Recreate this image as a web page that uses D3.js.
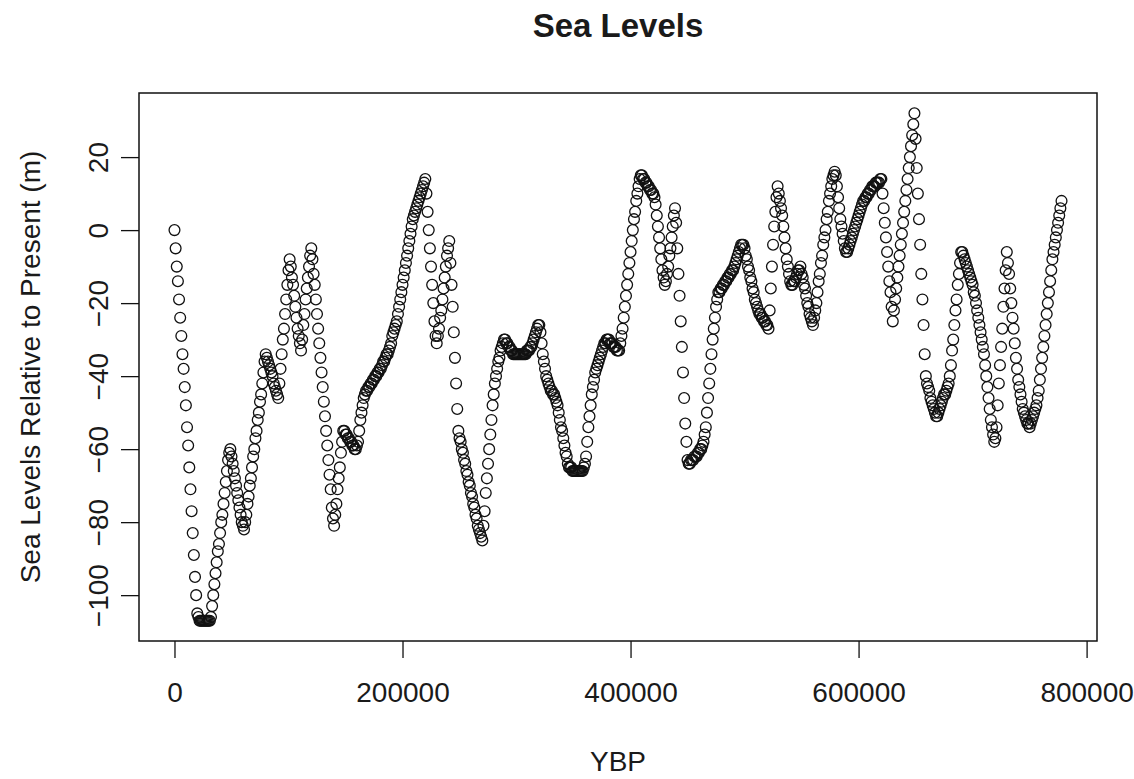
<!DOCTYPE html>
<html>
<head>
<meta charset="utf-8">
<script src="https://cdn.jsdelivr.net/npm/d3@7"></script>
<style>
  body { margin: 0; background: #fff; }
  text { font-family: "Liberation Sans", Arial, sans-serif; fill: #1a1a1a; }
</style>
</head>
<body>
<script>
// sea level (m, relative to present), one reading every 1000 years from 0 YBP
const seaLevel = [
  0, -5, -10, -14, -19, -24, -29, -34, -38, -43,          // 0
  -48, -54, -59, -65, -71, -77, -83, -89, -95, -100,
  -105, -106, -107, -107, -107, -107, -107, -107, -107, -107,
  -107, -107, -106, -103, -100, -97, -94, -91, -88, -86,
  -83, -80, -78, -75, -72, -69, -66, -63, -61, -60,
  -62, -64, -66, -68, -70, -72, -74, -76, -78, -80,      // 50
  -81, -82, -80, -78, -75, -73, -70, -68, -65, -62,
  -60, -57, -55, -52, -50, -47, -45, -42, -39, -36,
  -34, -35, -36, -37, -38, -39, -40, -42, -43, -44,
  -45, -46, -42, -38, -34, -30, -27, -23, -19, -15,
  -11, -8, -10, -13, -15, -18, -21, -24, -27, -29,       // 100
  -31, -33, -30, -26, -23, -19, -16, -13, -10, -7,
  -5, -8, -12, -15, -19, -23, -27, -31, -35, -39,
  -43, -47, -51, -55, -59, -63, -67, -71, -76, -79,
  -81, -78, -75, -71, -68, -65, -61, -58, -55, -55,
  -56, -56, -57, -57, -58, -58, -59, -59, -60, -60,      // 150
  -59, -58, -55, -52, -50, -48, -46, -45, -44, -44,
  -43, -43, -42, -42, -41, -41, -40, -40, -39, -39,
  -38, -38, -37, -36, -36, -35, -34, -34, -33, -32,
  -31, -29, -28, -27, -26, -25, -23, -21, -19, -17,
  -15, -13, -11, -9, -7, -5, -3, -1, 1, 3,               // 200
  4, 5, 6, 7, 8, 9, 10, 11, 12, 13,
  14, 10, 5, 0, -5, -10, -15, -20, -25, -29,
  -31, -29, -27, -24, -22, -19, -16, -13, -10, -7,
  -5, -3, -9, -15, -21, -28, -35, -42, -49, -55,
  -57, -58, -60, -61, -63, -64, -66, -67, -69, -70,      // 250
  -72, -73, -75, -76, -78, -79, -81, -82, -83, -84,
  -85, -81, -77, -72, -68, -64, -60, -56, -52, -48,
  -45, -42, -40, -38, -36, -35, -33, -32, -31, -30,
  -30, -31, -31, -32, -32, -33, -33, -34, -34, -34,
  -34, -34, -34, -34, -34, -34, -34, -34, -34, -33,      // 300
  -33, -33, -32, -32, -31, -30, -29, -28, -27, -26,
  -26, -28, -31, -34, -36, -38, -40, -41, -42, -43,
  -44, -44, -45, -45, -46, -47, -48, -50, -52, -54,
  -55, -57, -59, -61, -62, -64, -65, -65, -65, -66,
  -66, -66, -66, -66, -66, -66, -66, -66, -66, -65,      // 350
  -64, -62, -58, -54, -51, -48, -45, -43, -41, -39,
  -38, -37, -36, -35, -34, -33, -32, -31, -31, -30,
  -30, -30, -31, -31, -31, -32, -32, -32, -33, -33,
  -33, -31, -29, -27, -24, -21, -18, -15, -12, -9,
  -6, -3, 0, 3, 5, 8, 10, 12, 14, 15,                    // 400
  15, 14, 14, 13, 13, 12, 12, 11, 11, 10,
  10, 9, 7, 4, 1, -2, -5, -8, -11, -13,
  -15, -14, -12, -10, -7, -5, -2, 1, 4, 6,
  2, -5, -12, -18, -25, -32, -39, -46, -53, -58,
  -63, -64, -64, -63, -63, -63, -62, -62, -62, -61,      // 450
  -61, -60, -60, -59, -58, -56, -54, -50, -46, -42,
  -38, -34, -30, -27, -24, -21, -19, -17, -17, -16,
  -16, -15, -15, -14, -14, -13, -13, -12, -12, -11,
  -11, -10, -9, -8, -7, -6, -5, -4, -4, -4,
  -5, -7, -8, -10, -11, -13, -14, -16, -17, -19,         // 500
  -20, -21, -22, -23, -23, -24, -24, -25, -25, -26,
  -26, -27, -22, -16, -10, -4, 1, 5, 9, 12,
  10, 8, 6, 4, 1, -2, -5, -8, -10, -12,
  -14, -15, -15, -14, -14, -13, -12, -11, -11, -10,
  -12, -13, -15, -16, -18, -20, -21, -23, -24, -25,      // 550
  -26, -24, -22, -20, -17, -14, -12, -9, -7, -4,
  -2, 0, 3, 5, 8, 10, 12, 14, 15, 16,
  15, 12, 9, 6, 3, 1, -1, -3, -5, -6,
  -6, -5, -4, -3, -2, -1, 0, 1, 2, 3,
  4, 5, 6, 7, 8, 8, 9, 9, 10, 10,                        // 600
  11, 11, 12, 12, 12, 13, 13, 13, 13, 14,
  14, 10, 6, 2, -2, -6, -10, -14, -17, -21,
  -25, -22, -19, -16, -13, -10, -7, -4, -1, 2,
  5, 8, 11, 14, 17, 20, 23, 26, 29, 32,
  25, 17, 10, 3, -4, -12, -19, -26, -34, -40,            // 650
  -42, -43, -44, -46, -47, -48, -49, -50, -51, -51,
  -50, -49, -48, -47, -46, -45, -45, -44, -43, -42,
  -40, -37, -33, -30, -26, -22, -19, -15, -12, -9,
  -6, -6, -7, -8, -9, -10, -11, -12, -13, -14,
  -15, -17, -18, -20, -22, -24, -26, -28, -30, -32,      // 700
  -34, -37, -40, -43, -46, -49, -52, -54, -56, -58,
  -57, -54, -48, -42, -37, -32, -27, -21, -16, -11,
  -6, -9, -12, -16, -20, -24, -27, -31, -35, -38,
  -41, -43, -45, -47, -49, -50, -51, -52, -53, -53,
  -54, -53, -52, -51, -50, -49, -48, -46, -44, -41,      // 750
  -38, -35, -32, -29, -26, -23, -20, -17, -14, -11,
  -8, -6, -4, -2, 0, 2, 4, 6, 8
];
const yearStep = 1000;
const xTicks = [0, 200000, 400000, 600000, 800000];
const yTicks = [-100, -80, -60, -40, -20, 0, 20];

const title = "Sea Levels";
const xLabel = "YBP";
const yLabel = "Sea Levels Relative to Present (m)";

const data = seaLevel.map((v, i) => ({ybp: i * yearStep, level: v}));

const width = 1134, height = 779;
const box = {left: 139, right: 1097, top: 93, bottom: 641};

// R style: pad data range by 4% on each side
function padded(ext) {
  const p = (ext[1] - ext[0]) * 0.04;
  return [ext[0] - p, ext[1] + p];
}

const x = d3.scaleLinear()
  .domain(padded(d3.extent(data, d => d.ybp)))
  .range([box.left, box.right]);
const y = d3.scaleLinear()
  .domain(padded(d3.extent(data, d => d.level)))
  .range([box.bottom, box.top]);

const svg = d3.select("body").append("svg")
  .attr("width", width)
  .attr("height", height);

// points
svg.append("g")
  .selectAll("circle")
  .data(data)
  .enter().append("circle")
  .attr("cx", d => x(d.ybp))
  .attr("cy", d => y(d.level))
  .attr("r", 5.4)
  .attr("fill", "none")
  .attr("stroke", "#111")
  .attr("stroke-width", 1.3);

// box
svg.append("rect")
  .attr("x", box.left)
  .attr("y", box.top)
  .attr("width", box.right - box.left)
  .attr("height", box.bottom - box.top)
  .attr("fill", "none")
  .attr("stroke", "#111")
  .attr("stroke-width", 1.5);

// x axis
const gx = svg.append("g")
  .attr("transform", "translate(0," + box.bottom + ")")
  .call(d3.axisBottom(x).tickValues(xTicks).tickSize(17).tickFormat(d3.format("d")));
gx.select(".domain").remove();
gx.selectAll(".tick line").attr("stroke", "#111").attr("stroke-width", 1.3);
gx.selectAll(".tick text")
  .attr("y", 61).attr("dy", null)
  .style("font-size", "28px")
  .style("font-family", "'Liberation Sans', Arial, sans-serif")
  .attr("fill", "#1a1a1a");

// y axis, labels turned like R
const gy = svg.append("g")
  .attr("transform", "translate(" + box.left + ",0)")
  .call(d3.axisLeft(y).tickValues(yTicks).tickSize(18));
gy.select(".domain").remove();
gy.selectAll(".tick line").attr("stroke", "#111").attr("stroke-width", 1.3);
gy.selectAll(".tick text")
  .attr("x", null).attr("dy", null)
  .attr("transform", "translate(-31,0) rotate(-90)")
  .attr("text-anchor", "middle")
  .style("font-size", "28px")
  .style("font-family", "'Liberation Sans', Arial, sans-serif")
  .attr("fill", "#1a1a1a");

// titles
svg.append("text")
  .attr("x", (box.left + box.right) / 2)
  .attr("y", 37)
  .attr("text-anchor", "middle")
  .style("font-size", "33px")
  .style("font-weight", "bold")
  .text(title);

svg.append("text")
  .attr("x", (box.left + box.right) / 2)
  .attr("y", 771)
  .attr("text-anchor", "middle")
  .style("font-size", "28px")
  .text(xLabel);

svg.append("text")
  .attr("transform", "translate(40," + (box.top + box.bottom) / 2 + ") rotate(-90)")
  .attr("text-anchor", "middle")
  .style("font-size", "28px")
  .text(yLabel);
</script>
</body>
</html>
